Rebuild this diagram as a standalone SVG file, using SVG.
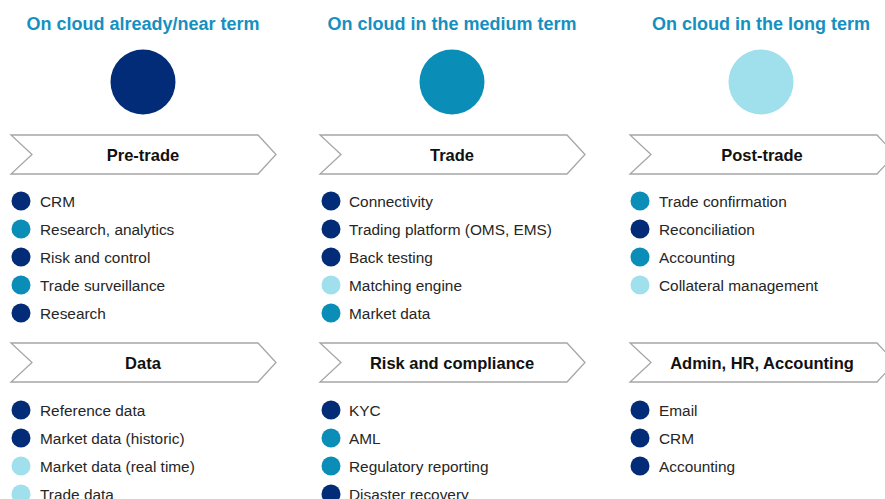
<svg xmlns="http://www.w3.org/2000/svg" width="885" height="499" viewBox="0 0 885 499">
  <style>
    .head { font-family: "Liberation Sans", Arial, sans-serif; font-weight: bold; font-size: 18px; fill: #1590bf; text-anchor: middle; }
    .chev { fill: #ffffff; stroke: #a6a6a6; stroke-width: 1.3; }
    .ctitle { font-family: "Liberation Sans", Arial, sans-serif; font-weight: bold; font-size: 16.5px; fill: #111111; text-anchor: middle; }
    .item { font-family: "Liberation Sans", Arial, sans-serif; font-size: 15.4px; fill: #262626; }
    .c1 { fill: #022c77; }
    .c2 { fill: #0a8db6; }
    .c3 { fill: #a0dfec; }
  </style>
  <defs>
    <path id="chevron" class="chev" d="M0,0 H247 L265,19.5 L247,39 H0 L21,19.5 Z"/>
  </defs>

  <!-- column 1 -->
  <g id="col-near">
    <text class="head" x="143" y="30">On cloud already/near term</text>
    <circle class="c1" cx="143" cy="82" r="32.5"/>
  </g>
  <g id="pre-trade">
    <use href="#chevron" x="11" y="135"/>
    <text class="ctitle" x="143" y="160.5">Pre-trade</text>
    <circle class="c1" cx="21" cy="201" r="9.5"/><text class="item" x="40" y="206.5">CRM</text>
    <circle class="c2" cx="21" cy="229" r="9.5"/><text class="item" x="40" y="234.5">Research, analytics</text>
    <circle class="c1" cx="21" cy="257" r="9.5"/><text class="item" x="40" y="262.5">Risk and control</text>
    <circle class="c2" cx="21" cy="285" r="9.5"/><text class="item" x="40" y="290.5">Trade surveillance</text>
    <circle class="c1" cx="21" cy="313" r="9.5"/><text class="item" x="40" y="318.5">Research</text>
  </g>
  <g id="data">
    <use href="#chevron" x="11" y="343"/>
    <text class="ctitle" x="143" y="368.5">Data</text>
    <circle class="c1" cx="21" cy="410" r="9.5"/><text class="item" x="40" y="415.5">Reference data</text>
    <circle class="c1" cx="21" cy="438" r="9.5"/><text class="item" x="40" y="443.5">Market data (historic)</text>
    <circle class="c3" cx="21" cy="466" r="9.5"/><text class="item" x="40" y="471.5">Market data (real time)</text>
    <circle class="c3" cx="21" cy="494" r="9.5"/><text class="item" x="40" y="499.5">Trade data</text>
  </g>

  <!-- column 2 -->
  <g id="col-medium">
    <text class="head" x="452" y="30">On cloud in the medium term</text>
    <circle class="c2" cx="452" cy="82" r="32.5"/>
  </g>
  <g id="trade">
    <use href="#chevron" x="320" y="135"/>
    <text class="ctitle" x="452" y="160.5">Trade</text>
    <circle class="c1" cx="331" cy="201" r="9.5"/><text class="item" x="349" y="206.5">Connectivity</text>
    <circle class="c1" cx="331" cy="229" r="9.5"/><text class="item" x="349" y="234.5">Trading platform (OMS, EMS)</text>
    <circle class="c1" cx="331" cy="257" r="9.5"/><text class="item" x="349" y="262.5">Back testing</text>
    <circle class="c3" cx="331" cy="285" r="9.5"/><text class="item" x="349" y="290.5">Matching engine</text>
    <circle class="c2" cx="331" cy="313" r="9.5"/><text class="item" x="349" y="318.5">Market data</text>
  </g>
  <g id="risk-compliance">
    <use href="#chevron" x="320" y="343"/>
    <text class="ctitle" x="452" y="368.5">Risk and compliance</text>
    <circle class="c1" cx="331" cy="410" r="9.5"/><text class="item" x="349" y="415.5">KYC</text>
    <circle class="c2" cx="331" cy="438" r="9.5"/><text class="item" x="349" y="443.5">AML</text>
    <circle class="c2" cx="331" cy="466" r="9.5"/><text class="item" x="349" y="471.5">Regulatory reporting</text>
    <circle class="c1" cx="331" cy="494" r="9.5"/><text class="item" x="349" y="499.5">Disaster recovery</text>
  </g>

  <!-- column 3 -->
  <g id="col-long">
    <text class="head" x="761" y="30">On cloud in the long term</text>
    <circle class="c3" cx="761" cy="82" r="32.5"/>
  </g>
  <g id="post-trade">
    <use href="#chevron" x="630" y="135"/>
    <text class="ctitle" x="762" y="160.5">Post-trade</text>
    <circle class="c2" cx="640" cy="201" r="9.5"/><text class="item" x="659" y="206.5">Trade confirmation</text>
    <circle class="c1" cx="640" cy="229" r="9.5"/><text class="item" x="659" y="234.5">Reconciliation</text>
    <circle class="c2" cx="640" cy="257" r="9.5"/><text class="item" x="659" y="262.5">Accounting</text>
    <circle class="c3" cx="640" cy="285" r="9.5"/><text class="item" x="659" y="290.5">Collateral management</text>
  </g>
  <g id="admin">
    <use href="#chevron" x="630" y="343"/>
    <text class="ctitle" x="762" y="368.5">Admin, HR, Accounting</text>
    <circle class="c1" cx="640" cy="410" r="9.5"/><text class="item" x="659" y="415.5">Email</text>
    <circle class="c1" cx="640" cy="438" r="9.5"/><text class="item" x="659" y="443.5">CRM</text>
    <circle class="c1" cx="640" cy="466" r="9.5"/><text class="item" x="659" y="471.5">Accounting</text>
  </g>

  <g id="connectors"/>
</svg>
